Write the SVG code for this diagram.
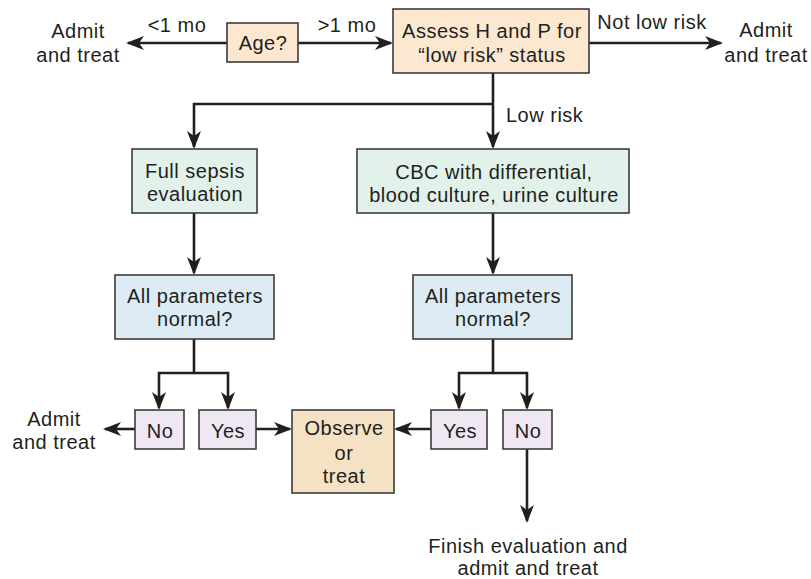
<svg xmlns="http://www.w3.org/2000/svg" width="811" height="579" viewBox="0 0 811 579">
<defs>
<style>
text{font-family:"Liberation Sans",Arial,sans-serif;font-size:20px;letter-spacing:0.5px;fill:#231f20;text-anchor:middle}
.box{stroke:#3d3b3c;stroke-width:1.6}
.peach{fill:#fce7d0}
.tan{fill:#f5e2c4}
.green{fill:#e2f1e9}
.blue{fill:#dcebf4}
.purple{fill:#efe8f2}
.c{fill:none;stroke:#231f20;stroke-width:2.6;marker-end:url(#ah)}
.s{text-anchor:start}
</style>
<marker id="ah" markerUnits="userSpaceOnUse" viewBox="0 0 18 14" markerWidth="18" markerHeight="14" refX="16" refY="7" orient="auto">
<path d="M0,0 L18,7 L0,14 L5,7 z" fill="#231f20"/>
</marker>
</defs>
<g id="connectors">
<path class="c" d="M227,43 H128"/>
<path class="c" d="M298,43 H391"/>
<path class="c" d="M589,43 H721"/>
<path class="c" d="M493,73 V147"/>
<path class="c" d="M493,104 H194 V147"/>
<path class="c" d="M194,213 V273"/>
<path class="c" d="M493,213 V273"/>
<path class="c" d="M194,339 V373 H159 V408"/>
<path class="c" d="M194,373 H228 V408"/>
<path class="c" d="M493,339 V373 H459 V408"/>
<path class="c" d="M493,373 H527 V408"/>
<path class="c" d="M135,429 H105"/>
<path class="c" d="M256,429 H290"/>
<path class="c" d="M431,429 H396"/>
<path class="c" d="M527,449 V521"/>
</g>
<g id="labels">
<text x="177" y="32">&lt;1 mo</text>
<text x="347" y="32">&gt;1 mo</text>
<text x="652" y="29">Not low risk</text>
<text class="s" x="506" y="122">Low risk</text>
</g>
<g id="admit-top-left">
<text x="78" y="38">Admit</text>
<text x="78" y="62">and treat</text>
</g>
<g id="age">
<rect class="box peach" x="227" y="23" width="71" height="39"/>
<text x="263" y="50">Age?</text>
</g>
<g id="assess">
<rect class="box peach" x="393" y="9" width="196" height="64"/>
<text x="492" y="38">Assess H and P for</text>
<text x="492" y="62">“low risk” status</text>
</g>
<g id="admit-top-right">
<text x="766" y="37">Admit</text>
<text x="766" y="62">and treat</text>
</g>
<g id="full-sepsis">
<rect class="box green" x="132" y="149" width="125" height="64"/>
<text x="195" y="178">Full sepsis</text>
<text x="195" y="201">evaluation</text>
</g>
<g id="cbc">
<rect class="box green" x="357" y="149" width="272" height="64"/>
<text x="494" y="179">CBC with differential,</text>
<text x="494" y="202">blood culture, urine culture</text>
</g>
<g id="params-left">
<rect class="box blue" x="115" y="275" width="159" height="64"/>
<text x="195" y="303">All parameters</text>
<text x="195" y="326">normal?</text>
</g>
<g id="params-right">
<rect class="box blue" x="413" y="275" width="159" height="64"/>
<text x="493" y="303">All parameters</text>
<text x="493" y="326">normal?</text>
</g>
<g id="no-left">
<rect class="box purple" x="135" y="410" width="49" height="39"/>
<text x="160" y="438">No</text>
</g>
<g id="yes-left">
<rect class="box purple" x="199" y="410" width="57" height="39"/>
<text x="228" y="438">Yes</text>
</g>
<g id="admit-bottom-left">
<text x="54" y="426">Admit</text>
<text x="54" y="449">and treat</text>
</g>
<g id="observe">
<rect class="box tan" x="292" y="410" width="102" height="83"/>
<text x="344" y="435">Observe</text>
<text x="344" y="460">or</text>
<text x="344" y="483">treat</text>
</g>
<g id="yes-right">
<rect class="box purple" x="431" y="410" width="56" height="39"/>
<text x="460" y="438">Yes</text>
</g>
<g id="no-right">
<rect class="box purple" x="503" y="410" width="49" height="39"/>
<text x="528" y="438">No</text>
</g>
<g id="finish">
<text x="528" y="553">Finish evaluation and</text>
<text x="528" y="575">admit and treat</text>
</g>
</svg>
